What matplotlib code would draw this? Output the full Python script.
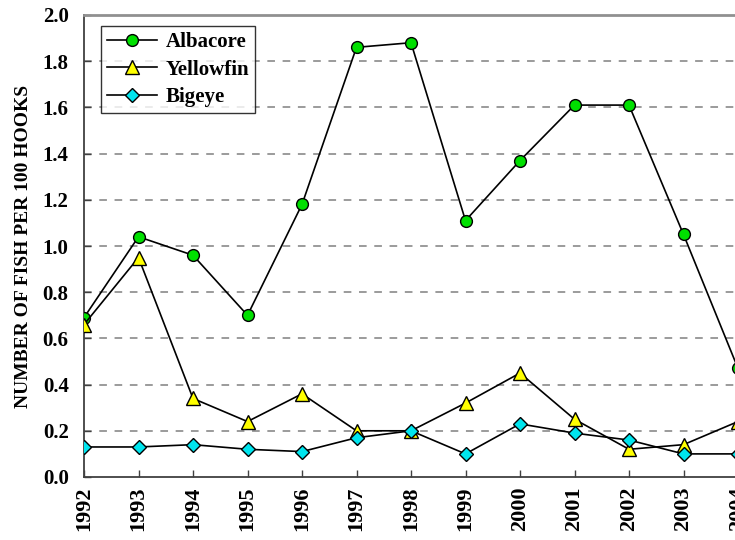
import matplotlib
matplotlib.use("Agg")
import matplotlib.pyplot as plt

years = [1992, 1993, 1994, 1995, 1996, 1997, 1998, 1999, 2000, 2001, 2002, 2003, 2004]
albacore = [0.69, 1.04, 0.96, 0.70, 1.18, 1.86, 1.88, 1.11, 1.37, 1.61, 1.61, 1.05, 0.47]
yellowfin = [0.66, 0.95, 0.34, 0.24, 0.36, 0.20, 0.20, 0.32, 0.45, 0.25, 0.12, 0.14, 0.24]
bigeye = [0.13, 0.13, 0.14, 0.12, 0.11, 0.17, 0.20, 0.10, 0.23, 0.19, 0.16, 0.10, 0.10]
yticks = [0.0, 0.2, 0.4, 0.6, 0.8, 1.0, 1.2, 1.4, 1.6, 1.8, 2.0]

plt.rcParams['font.family'] = ['Liberation Serif', 'DejaVu Serif']
plt.rcParams['font.weight'] = 'bold'

W, H = 735, 540
fig = plt.figure(figsize=(W / 100, H / 100), dpi=100)
left_px, right_px, top_px, bottom_px = 84, 738, 15, 477
ax = fig.add_axes([left_px / W, 1 - bottom_px / H, (right_px - left_px) / W, (bottom_px - top_px) / H])

for yv in yticks[1:-1]:
    ax.axhline(yv, color='#808080', lw=1.1, ls=(0, (5, 5)), zorder=1)

ax.plot(years, albacore, color='black', lw=1.2, marker='o', markersize=8.5,
        markerfacecolor='#00E000', markeredgecolor='black', markeredgewidth=1.0,
        label='Albacore', zorder=3)
ax.plot(years, yellowfin, color='black', lw=1.2, marker='^', markersize=9.5,
        markerfacecolor='#FFFF00', markeredgecolor='black', markeredgewidth=1.0,
        label='Yellowfin', zorder=3)
ax.plot(years, bigeye, color='black', lw=1.2, marker='D', markersize=7,
        markerfacecolor='#00E5EE', markeredgecolor='black', markeredgewidth=1.0,
        label='Bigeye', zorder=3)

ax.set_xlim(1992, 2004)
ax.set_ylim(0, 2.0)
ax.set_yticks(yticks)
ax.set_yticklabels([f"{v:.1f}" for v in yticks], fontsize=15, fontweight='bold')
ax.set_xticks(years)
ax.set_xticklabels([str(y) for y in years], rotation=90, fontsize=16, fontweight='bold')
ax.tick_params(axis='both', direction='in', length=5, width=1, color='#404040')
ax.tick_params(axis='y', pad=11)
ax.tick_params(axis='x', pad=7)

ax.spines['top'].set_color('#909090')
ax.spines['top'].set_linewidth(2)
ax.spines['left'].set_color('#404040')
ax.spines['bottom'].set_color('#404040')
ax.spines['left'].set_linewidth(1.3)
ax.spines['bottom'].set_linewidth(1.3)
ax.spines['right'].set_visible(False)

ax.set_ylabel('NUMBER OF FISH PER 100 HOOKS', fontsize=14, fontweight='bold', labelpad=8)

leg = ax.legend(loc='upper left', bbox_to_anchor=((101 - left_px) / (right_px - left_px),
                                                   (bottom_px - 26) / (bottom_px - top_px)),
                borderaxespad=0, fancybox=False, frameon=True, edgecolor='black',
                prop={'family': 'Liberation Serif', 'weight': 'bold', 'size': 15},
                handlelength=2.4, handletextpad=0.4, labelspacing=0.35, borderpad=0.3)
leg.get_frame().set_linewidth(1.0)
leg.set_zorder(5)

fig.savefig('out.png', dpi=100)
